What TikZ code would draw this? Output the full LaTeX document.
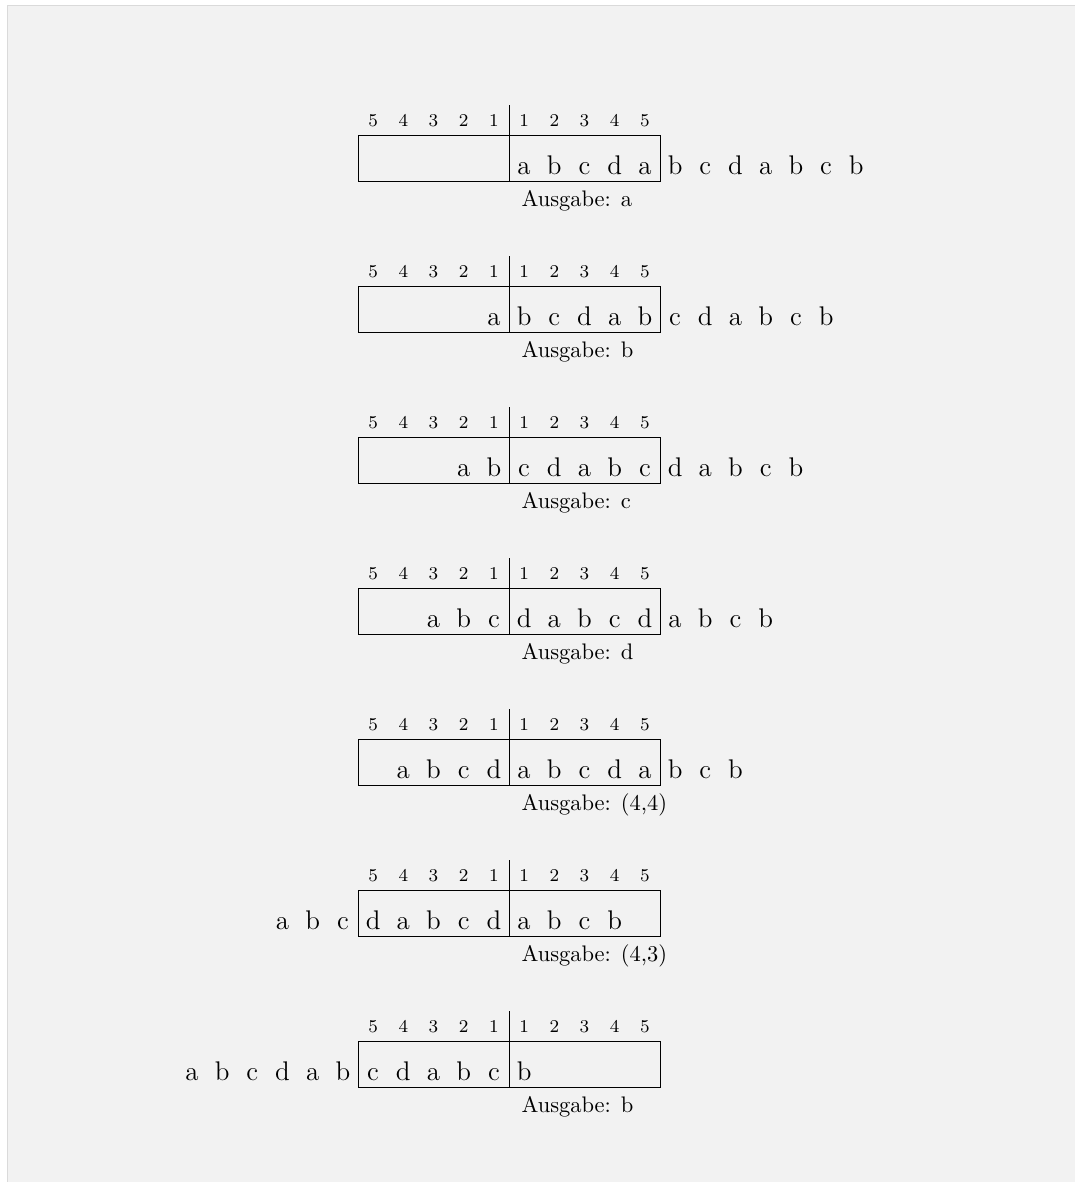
\documentclass[tikz,border=0pt]{standalone}
\usepackage{tikz}
\usetikzlibrary{calc}
\definecolor{pageGray}{HTML}{F2F2F2}
\definecolor{frameGray}{HTML}{DADADA}

\begin{document}
\begin{tikzpicture}[x=0.472cm, y=0.472cm,
    sym/.style={anchor=base, font=\large, inner sep=0pt},
    idx/.style={font=\footnotesize, inner sep=0pt},
    outlabel/.style={anchor=base west, inner sep=0pt}]
    \useasboundingbox[fill=white] (-11.854,-33.146) rectangle (23.742,5.993);
    \fill[pageGray] (-11.6,-33.146) rectangle (23.742,5.8);
    \draw[frameGray] (-11.6,-33.146) -- (-11.6,5.8) -- (23.742,5.8);

    % one row per step: start of the string, output
    \foreach \s/\res [count=\k from 0] in {5/a, 4/b, 3/c, 2/d, 1/{(4,4)}, -3/{(4,3)}, -6/b} {
        \begin{scope}[shift={(0,{-5*\k})}]
            \draw (0,0) rectangle (10,1.52);
            \draw (5,0) -- (5,2.52);
            \foreach \n [count=\j] in {5,4,3,2,1,1,2,3,4,5}
                \node[idx] (n\k-\j) at (\j-0.5, 2.0) {\n};
            \foreach \c [count=\i] in {a,b,c,d,a,b,c,d,a,b,c,b}
                \node[sym] (c\k-\i) at (\s+\i-0.5, 0.21) {\c};
            \node[outlabel] (out\k) at (5.4,-0.85) {Ausgabe: \res};
        \end{scope}
    }
\end{tikzpicture}
\end{document}
